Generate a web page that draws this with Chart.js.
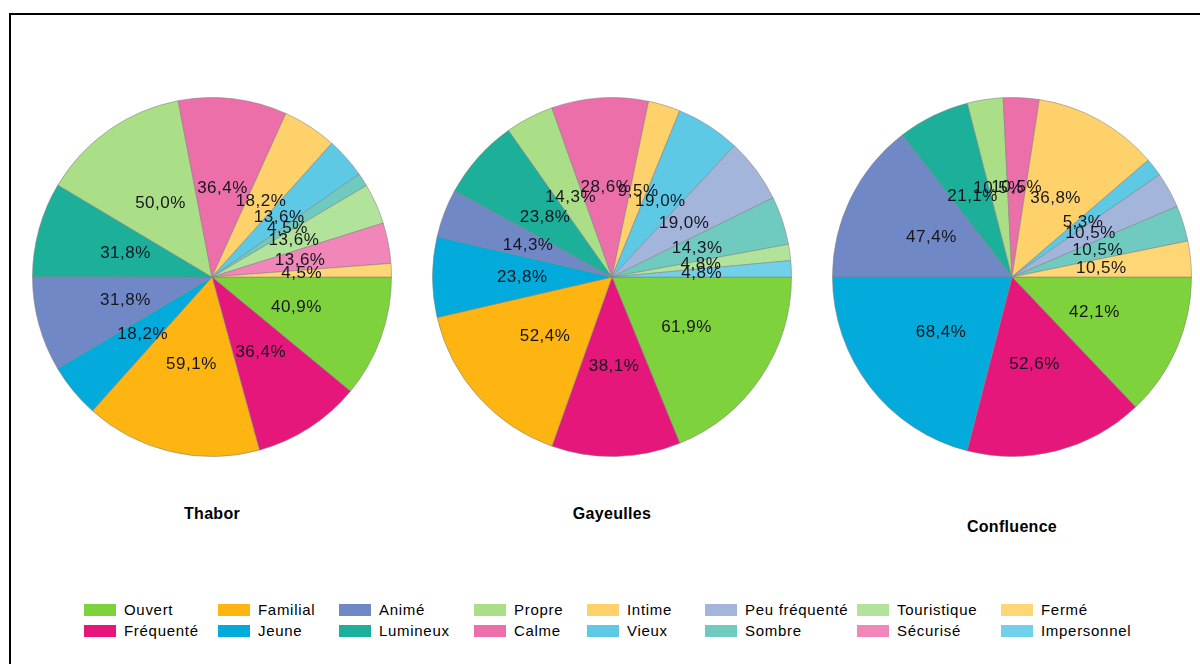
<!DOCTYPE html>
<html>
<head>
<meta charset="utf-8">
<script src="https://cdn.jsdelivr.net/npm/chart.js@4.4.1/dist/chart.umd.min.js"></script>
<style>
  html, body { margin: 0; padding: 0; background: #fff; }
  body { width: 1200px; height: 664px; position: relative; overflow: hidden; font-family: "Liberation Sans", Arial, sans-serif; }
  #frame { position: absolute; left: 9px; top: 13px; width: 1300px; height: 800px; border-left: 2px solid #000; border-top: 2px solid #000; box-sizing: border-box; }
  .pie { position: absolute; top: 97px; width: 360px; height: 360px; }
  .title { position: absolute; width: 200px; text-align: center; font-weight: bold; font-size: 16px; color: #000; letter-spacing: 0.3px; }
  .leg { position: absolute; display: flex; align-items: center; font-size: 15px; color: #000; letter-spacing: 0.7px; white-space: nowrap; }
  .sw { width: 32px; height: 12px; margin-right: 8px; }
</style>
</head>
<body>
<div id="frame"></div>
<div class="pie" style="left:32px"><canvas id="c0" width="360" height="360"></canvas></div>
<div class="pie" style="left:432px"><canvas id="c1" width="360" height="360"></canvas></div>
<div class="pie" style="left:832px"><canvas id="c2" width="360" height="360"></canvas></div>
<div id="titles"></div>
<div id="legend"></div>
<script>
// ---- data ----
const categories = ['Ouvert','Fréquenté','Familial','Jeune','Animé','Lumineux','Propre','Calme','Intime','Vieux','Peu fréquenté','Sombre','Touristique','Sécurisé','Fermé','Impersonnel'];
const places = ['Thabor','Gayeulles','Confluence'];
const thabor     = [40.9, 36.4, 59.1, 18.2, 31.8, 31.8, 50.0, 36.4, 18.2, 13.6, 0,    4.5,  13.6, 13.6, 4.5,  0];
const gayeulles  = [61.9, 38.1, 52.4, 23.8, 14.3, 23.8, 14.3, 28.6, 9.5,  19.0, 19.0, 14.3, 4.8,  0,    0,    4.8];
const confluence = [42.1, 52.6, 0,    68.4, 47.4, 21.1, 10.5, 10.5, 36.8, 5.3,  10.5, 10.5, 0,    0,    10.5, 0];
const colors = ['#7ed23b','#e6177a','#feb512','#02abdb','#7188c6','#1cb09a','#aade87','#ec6fa9','#fed16b','#5ec9e5','#a4b5dc','#6fcbbf','#b2e39a','#f186b8','#fed676','#72d1ea'];

// ---- layout ----
const pieCenters = [212, 612, 1012];
const titleY = [505, 505, 518];
const legendCols = [84, 218, 339, 474, 587, 705, 857, 1001];
const legendRows = [601, 622];

const seriesList = [thabor, gayeulles, confluence];

const labelPlugin = {
  id: 'sliceLabels',
  afterDatasetsDraw(chart) {
    const ctx = chart.ctx;
    const meta = chart.getDatasetMeta(0);
    const data = chart.data.datasets[0].data;
    ctx.save();
    ctx.font = '17px "Liberation Sans", Arial, sans-serif';
    if ('letterSpacing' in ctx) ctx.letterSpacing = '0.5px';
    ctx.fillStyle = '#16161f';
    ctx.textAlign = 'center';
    ctx.textBaseline = 'middle';
    meta.data.forEach((arc, i) => {
      if (!data[i]) return;
      const p = arc.getProps(['x','y','startAngle','endAngle','outerRadius'], true);
      const mid = (p.startAngle + p.endAngle) / 2;
      const r = p.outerRadius * 0.5;
      const txt = data[i].toFixed(1).replace('.', ',') + '%';
      ctx.fillText(txt, p.x + Math.cos(mid) * r, p.y + Math.sin(mid) * r);
    });
    ctx.restore();
  }
};

seriesList.forEach((vals, k) => {
  new Chart(document.getElementById('c' + k), {
    type: 'pie',
    data: {
      labels: categories,
      datasets: [{
        data: vals,
        backgroundColor: colors,
        borderColor: 'rgba(130,130,130,0.55)',
        borderWidth: c => (c.raw > 0 ? 1 : 0)
      }]
    },
    options: {
      responsive: false,
      animation: false,
      events: [],
      rotation: 90,
      layout: { padding: 0 },
      plugins: { legend: { display: false }, tooltip: { enabled: false } }
    },
    plugins: [labelPlugin]
  });
});

// titles
const tEl = document.getElementById('titles');
places.forEach((name, k) => {
  const d = document.createElement('div');
  d.className = 'title';
  d.textContent = name;
  d.style.left = (pieCenters[k] - 100) + 'px';
  d.style.top = titleY[k] + 'px';
  tEl.appendChild(d);
});

// legend (column-major, 2 rows)
const lEl = document.getElementById('legend');
categories.forEach((name, i) => {
  const col = Math.floor(i / 2), row = i % 2;
  const d = document.createElement('div');
  d.className = 'leg';
  d.style.left = legendCols[col] + 'px';
  d.style.top = legendRows[row] + 'px';
  const s = document.createElement('span');
  s.className = 'sw';
  s.style.background = colors[i];
  d.appendChild(s);
  d.appendChild(document.createTextNode(name));
  lEl.appendChild(d);
});
</script>
</body>
</html>
